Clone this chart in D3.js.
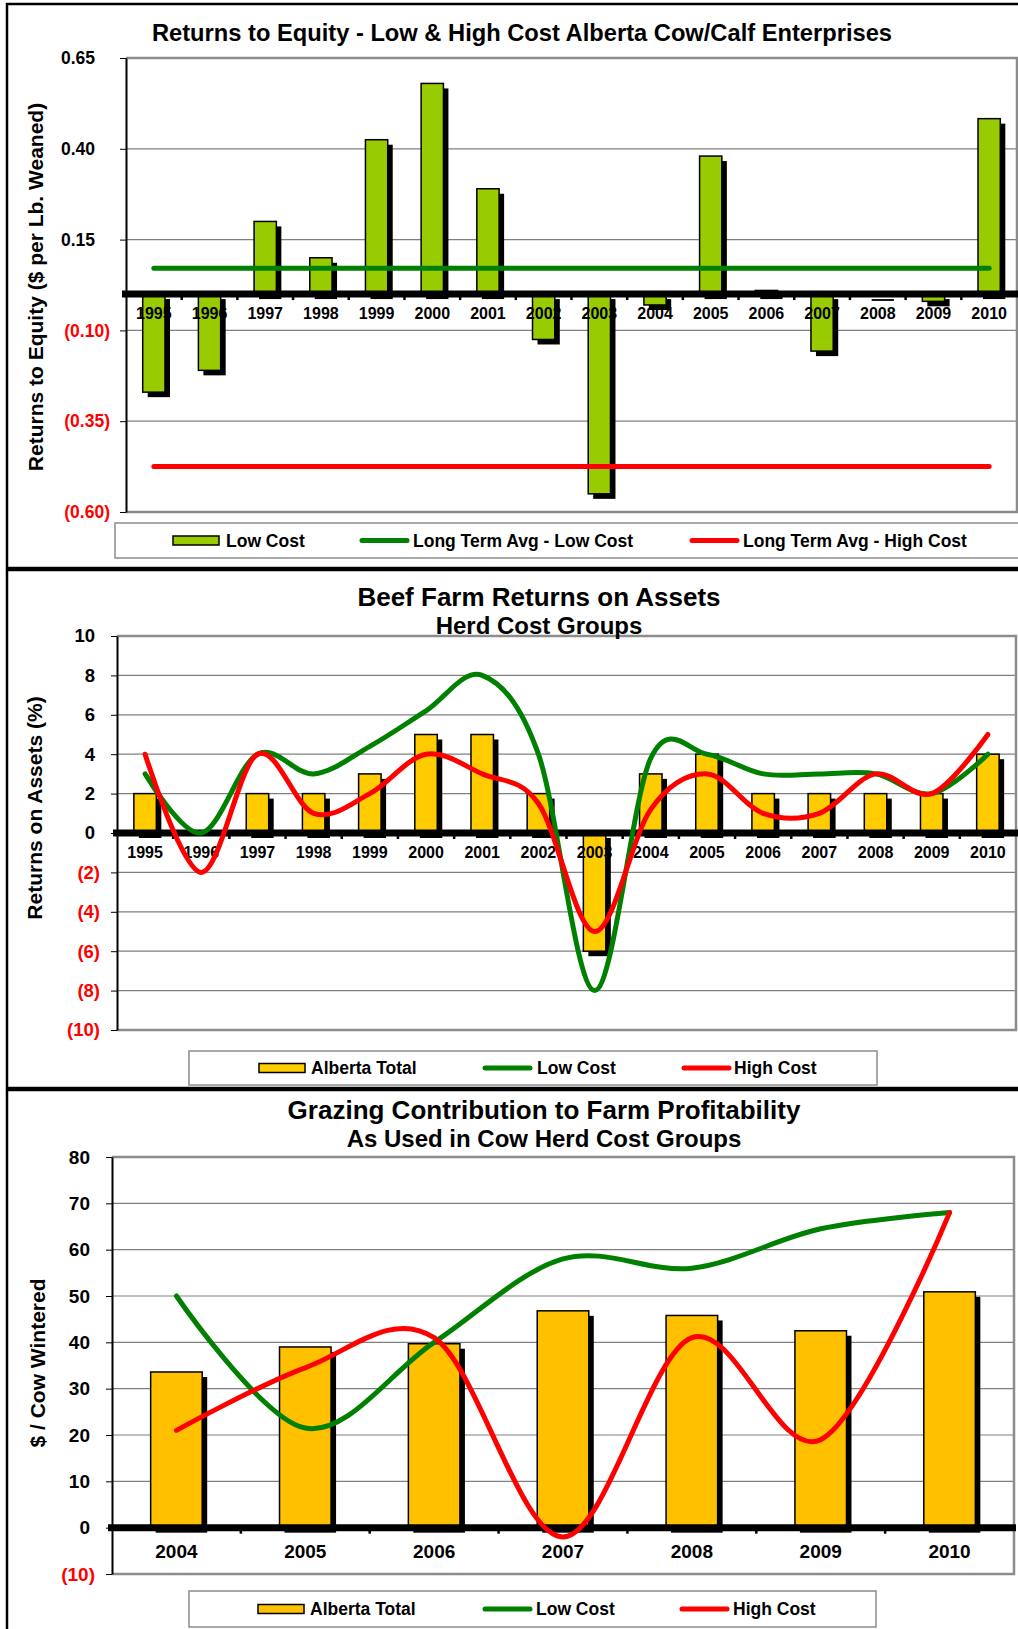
<!DOCTYPE html>
<html>
<head>
<meta charset="utf-8">
<script src="https://cdnjs.cloudflare.com/ajax/libs/d3/7.8.5/d3.min.js"></script>
<style>
body { margin: 0; background: #fff; }
svg { display: block; }
text { font-family: "Liberation Sans", Arial, sans-serif; font-weight: bold; }
</style>
</head>
<body>
<script>
// ---- chart 1: returns to equity ----
var equityYears = ['1995', '1996', '1997', '1998', '1999', '2000', '2001', '2002',
    '2003', '2004', '2005', '2006', '2007', '2008', '2009', '2010'];
var equityLowCost = [-0.27, -0.21, 0.20, 0.10, 0.425, 0.58, 0.29, -0.125,
    -0.55, -0.03, 0.38, 0.01, -0.157, -0.005, -0.02, 0.483];
var equityAvgLow = 0.071;
var equityAvgHigh = -0.475;
var equityTicks = [0.65, 0.40, 0.15, -0.10, -0.35, -0.60];

// ---- chart 2: returns on assets ----
var roaYears = ['1995', '1996', '1997', '1998', '1999', '2000', '2001', '2002',
    '2003', '2004', '2005', '2006', '2007', '2008', '2009', '2010'];
var roaAlberta = [2, 0, 2, 2, 3, 5, 5, 2, -6, 3, 4, 2, 2, 2, 2, 4];
var roaLowCost = [3, 0, 4, 3, 4.4, 6.2, 8, 4, -8, 3.8, 4, 3, 3, 3, 2, 4];
var roaHighCost = [4, -2, 4, 1, 2, 4, 3, 1.5, -5, 1.2, 3, 1, 1, 3, 2, 5];
var roaTicks = [10, 8, 6, 4, 2, 0, -2, -4, -6, -8, -10];

// ---- chart 3: grazing contribution ----
var grazYears = ['2004', '2005', '2006', '2007', '2008', '2009', '2010'];
var grazAlberta = [33.6, 39.0, 39.7, 46.8, 45.8, 42.5, 50.9];
var grazLowCost = [50, 21.5, 40, 58, 56, 64.5, 68];
var grazHighCost = [21, 34.5, 41, -2, 41, 19, 68];
var grazTicks = [80, 70, 60, 50, 40, 30, 20, 10, 0, -10];

var svg = d3.select('body').append('svg')
    .attr('width', 1018)
    .attr('height', 1629);

function parens(f) {
    return function (d) {
        return d < 0 ? '(' + f(-d) + ')' : f(d);
    };
}

function drawPanel(p) {
    var g = svg.append('g');

    // outer frame of the panel
    g.append('rect')
        .attr('x', 7)
        .attr('y', p.frameTop)
        .attr('width', 1100)
        .attr('height', p.frameBottom - p.frameTop)
        .attr('fill', 'white')
        .attr('stroke', 'black')
        .attr('stroke-width', 2.5);

    var x = d3.scaleBand().domain(p.cats).range([p.left, p.right]);
    var y = d3.scaleLinear()
        .domain([d3.min(p.ticks), d3.max(p.ticks)])
        .range([p.bottom, p.top]);
    var bw = x.bandwidth() * 0.4;
    var cx = function (c) { return x(c) + x.bandwidth() / 2; };

    // grid
    g.selectAll(null).data(p.ticks).enter().append('line')
        .attr('x1', p.left)
        .attr('x2', p.right)
        .attr('y1', function (d) { return y(d); })
        .attr('y2', function (d) { return y(d); })
        .attr('stroke', '#808080')
        .attr('stroke-width', 1.2);

    g.append('path')
        .attr('d', 'M' + p.left + ',' + p.top + 'H' + p.right + 'V' + p.bottom + 'H' + p.left)
        .attr('fill', 'none')
        .attr('stroke', '#8c8c8c')
        .attr('stroke-width', 2.5);

    // bars with their drop shadow
    g.selectAll(null).data(p.bars).enter().append('rect')
        .attr('x', function (d, i) { return cx(p.cats[i]) - bw / 2 + 5; })
        .attr('y', function (d) { return y(Math.max(0, d)) + 5; })
        .attr('width', bw)
        .attr('height', function (d) { return Math.abs(y(d) - y(0)); })
        .attr('fill', 'black');
    g.selectAll(null).data(p.bars).enter().append('rect')
        .attr('x', function (d, i) { return cx(p.cats[i]) - bw / 2; })
        .attr('y', function (d) { return y(Math.max(0, d)); })
        .attr('width', bw)
        .attr('height', function (d) { return Math.abs(y(d) - y(0)); })
        .attr('fill', p.barColor)
        .attr('stroke', 'black')
        .attr('stroke-width', 1.5);

    // zero line and category ticks
    g.append('line')
        .attr('x1', p.left - 4)
        .attr('x2', p.right + 2)
        .attr('y1', y(0))
        .attr('y2', y(0))
        .attr('stroke', 'black')
        .attr('stroke-width', 7);
    g.selectAll(null).data(p.cats.slice(1)).enter().append('line')
        .attr('x1', function (d) { return x(d); })
        .attr('x2', function (d) { return x(d); })
        .attr('y1', y(0))
        .attr('y2', y(0) + 6)
        .attr('stroke', 'black')
        .attr('stroke-width', 2.5);

    g.selectAll(null).data(p.cats).enter().append('text')
        .attr('x', function (d) { return cx(d); })
        .attr('y', y(0) + p.labelGap)
        .attr('dy', '0.36em')
        .attr('text-anchor', 'middle')
        .style('font-size', p.xFont + 'px')
        .text(function (d) { return d; });

    // y axis
    var yAxis = g.append('g')
        .attr('transform', 'translate(' + p.left + ',0)')
        .call(d3.axisLeft(y).tickValues(p.ticks).tickSize(6).tickSizeOuter(0).tickFormat(p.fmt));
    yAxis.select('.domain').attr('stroke', 'black').attr('stroke-width', 2);
    yAxis.selectAll('.tick line').attr('stroke', 'black');
    yAxis.selectAll('text')
        .attr('x', function (d) { return d < 0 ? -p.negGap : -p.posGap; })
        .attr('fill', function (d) { return d < 0 ? '#ff0000' : 'black'; })
        .style('font-size', p.yFont + 'px');

    // lines
    var line = d3.line()
        .x(function (d, i) { return cx(p.cats[i]); })
        .y(function (d) { return y(d); })
        .curve(p.smooth ? d3.curveCardinal.tension(0) : d3.curveLinear);
    p.lines.forEach(function (s) {
        g.append('path')
            .attr('d', line(s.values))
            .attr('fill', 'none')
            .attr('stroke', s.color)
            .attr('stroke-width', 5)
            .attr('stroke-linecap', 'round');
    });

    // titles
    p.titles.forEach(function (t) {
        g.append('text')
            .attr('x', t.x)
            .attr('y', t.y + t.size * 0.358)
            .attr('text-anchor', 'middle')
            .style('font-size', t.size + 'px')
            .text(t.text);
    });

    g.append('text')
        .attr('transform', 'translate(' + (p.axisTitle.x + 7.5) + ',' + p.axisTitle.y + ') rotate(-90)')
        .attr('text-anchor', 'middle')
        .style('font-size', '21px')
        .text(p.axisTitle.text);

    // legend
    var L = p.legend;
    g.append('rect')
        .attr('x', L.x)
        .attr('y', L.y)
        .attr('width', L.w)
        .attr('height', L.h)
        .attr('fill', 'white')
        .attr('stroke', '#8c8c8c')
        .attr('stroke-width', 1.5);
    var my = L.y + L.h / 2;
    L.items.forEach(function (it) {
        if (it.type == 'bar') {
            g.append('rect')
                .attr('x', it.sx)
                .attr('y', my - 4.5)
                .attr('width', 46)
                .attr('height', 9)
                .attr('fill', it.color)
                .attr('stroke', 'black')
                .attr('stroke-width', 1.5);
        } else {
            g.append('line')
                .attr('x1', it.sx + 2)
                .attr('x2', it.sx + 47)
                .attr('y1', my)
                .attr('y2', my)
                .attr('stroke', it.color)
                .attr('stroke-width', 5)
                .attr('stroke-linecap', 'round');
        }
        g.append('text')
            .attr('x', it.tx)
            .attr('y', my + 17.5 * 0.358)
            .style('font-size', '17.5px')
            .text(it.label);
    });
}

drawPanel({
    frameTop: 4, frameBottom: 568,
    cats: equityYears, ticks: equityTicks,
    left: 126, right: 1017, top: 58, bottom: 512,
    bars: equityLowCost, barColor: '#99cc00',
    fmt: parens(d3.format('.2f')), posGap: 31, negGap: 16, yFont: 17.5,
    labelGap: 19, xFont: 16,
    smooth: false,
    lines: [
        { values: equityYears.map(function () { return equityAvgLow; }), color: '#008000' },
        { values: equityYears.map(function () { return equityAvgHigh; }), color: '#ff0000' }
    ],
    titles: [{ text: 'Returns to Equity - Low & High Cost Alberta Cow/Calf Enterprises', x: 522, y: 33, size: 23.7 }],
    axisTitle: { text: 'Returns to Equity ($ per Lb. Weaned)', x: 35.5, y: 287 },
    legend: {
        x: 115, y: 523, w: 1000, h: 35,
        items: [
            { type: 'bar', color: '#99cc00', label: 'Low Cost', sx: 173, tx: 226 },
            { type: 'line', color: '#008000', label: 'Long Term Avg - Low Cost', sx: 360, tx: 413 },
            { type: 'line', color: '#ff0000', label: 'Long Term Avg - High Cost', sx: 690, tx: 743 }
        ]
    }
});

drawPanel({
    frameTop: 570, frameBottom: 1088,
    cats: roaYears, ticks: roaTicks,
    left: 117, right: 1016, top: 636, bottom: 1030,
    bars: roaAlberta, barColor: '#ffcc00',
    fmt: parens(d3.format('d')), posGap: 22, negGap: 17, yFont: 18.5,
    labelGap: 19.7, xFont: 16,
    smooth: true,
    lines: [
        { values: roaLowCost, color: '#008000' },
        { values: roaHighCost, color: '#ff0000' }
    ],
    titles: [
        { text: 'Beef Farm Returns on Assets', x: 539, y: 597, size: 26 },
        { text: 'Herd Cost Groups', x: 539, y: 625, size: 24 }
    ],
    axisTitle: { text: 'Returns on Assets (%)', x: 34, y: 808 },
    legend: {
        x: 189, y: 1051, w: 688, h: 34,
        items: [
            { type: 'bar', color: '#ffcc00', label: 'Alberta Total', sx: 259, tx: 311 },
            { type: 'line', color: '#008000', label: 'Low Cost', sx: 483, tx: 537 },
            { type: 'line', color: '#ff0000', label: 'High Cost', sx: 682, tx: 734 }
        ]
    }
});

drawPanel({
    frameTop: 1090, frameBottom: 1660,
    cats: grazYears, ticks: grazTicks,
    left: 112, right: 1014, top: 1157, bottom: 1574,
    bars: grazAlberta, barColor: '#ffc000',
    fmt: parens(d3.format('d')), posGap: 22, negGap: 17, yFont: 19,
    labelGap: 23, xFont: 19,
    smooth: true,
    lines: [
        { values: grazLowCost, color: '#008000' },
        { values: grazHighCost, color: '#ff0000' }
    ],
    titles: [
        { text: 'Grazing Contribution to Farm Profitability', x: 544, y: 1110, size: 26 },
        { text: 'As Used in Cow Herd Cost Groups', x: 544, y: 1138.5, size: 24 }
    ],
    axisTitle: { text: '$ / Cow Wintered', x: 37.5, y: 1363 },
    legend: {
        x: 189, y: 1591, w: 687, h: 36,
        items: [
            { type: 'bar', color: '#ffc000', label: 'Alberta Total', sx: 258, tx: 310 },
            { type: 'line', color: '#008000', label: 'Low Cost', sx: 483, tx: 536 },
            { type: 'line', color: '#ff0000', label: 'High Cost', sx: 680, tx: 733 }
        ]
    }
});
</script>
</body>
</html>
